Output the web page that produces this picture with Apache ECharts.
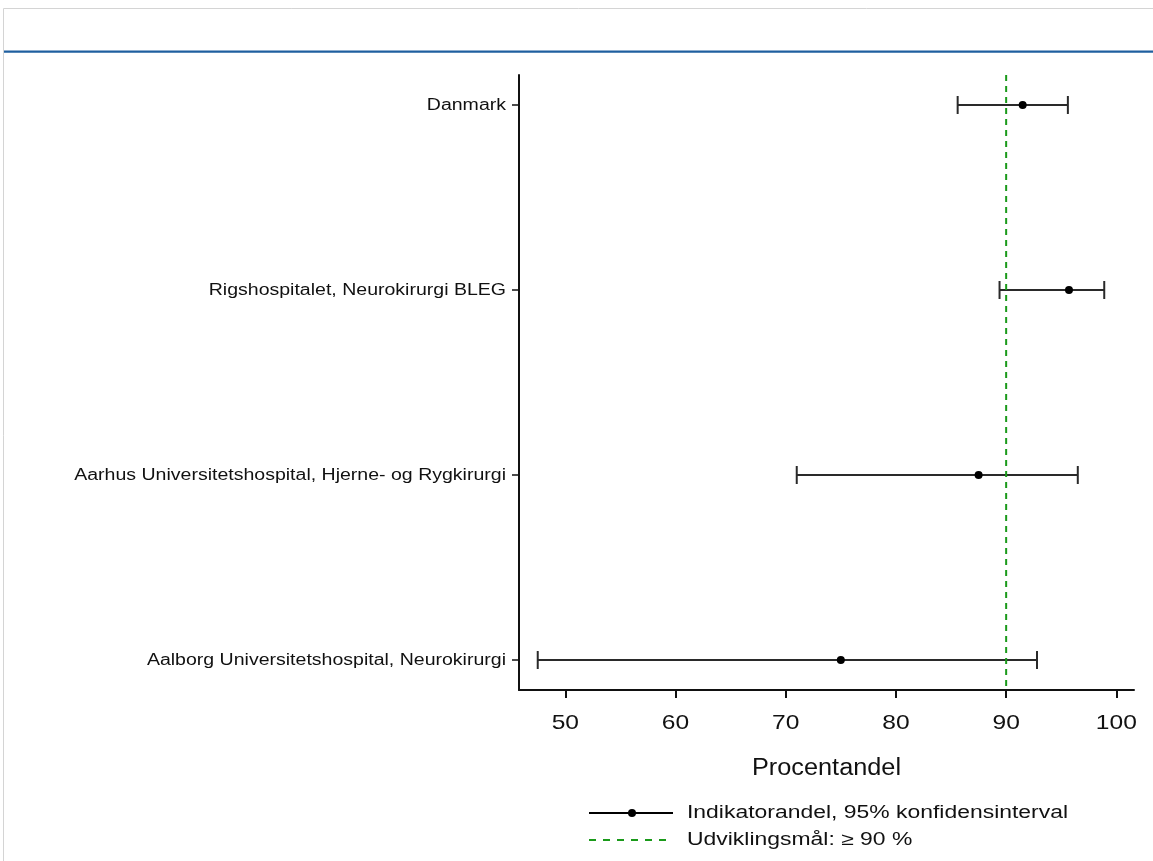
<!DOCTYPE html>
<html>
<head>
<meta charset="utf-8">
<script src="https://cdn.jsdelivr.net/npm/echarts@6/dist/echarts.min.js"></script>
<style>
  html, body { margin: 0; padding: 0; background: #fff; }
  #chart { width: 1153px; height: 861px; }
</style>
</head>
<body>
<div id="chart"></div>
<script>
// Units, top to bottom
const units = [
  'Danmark',
  'Rigshospitalet, Neurokirurgi BLEG',
  'Aarhus Universitetshospital, Hjerne- og Rygkirurgi',
  'Aalborg Universitetshospital, Neurokirurgi'
];
// Indicator share (%) with 95% confidence limits
const estimate = [91.5, 95.7, 87.5, 75.0];
const lower    = [85.6, 89.4, 71.0, 47.5];
const upper    = [95.6, 98.9, 96.5, 92.8];
// Development target
const target = 90;
const xTicks = [50, 60, 70, 80, 90, 100];
const axisTitle = 'Procentandel';
const legendCi = 'Indikatorandel, 95% konfidensinterval';
const legendTarget = 'Udviklingsmål: ≥ 90 %';

const positions = units.map((_, i) => i + 1);
const rows = units.map((_, i) => [positions[i], estimate[i], lower[i], upper[i]]);

const FONT = '"Liberation Sans", Arial, Helvetica, sans-serif';
const INK = '#111';
const GREEN = '#1a9a1a';
const Y_MIN = 0.838, Y_MAX = 4.162;

const chart = echarts.init(document.getElementById('chart'), null, { renderer: 'canvas' });

chart.setOption({
  animation: false,
  backgroundColor: '#ffffff',
  grid: { left: 519, right: 19, top: 75, bottom: 171, containLabel: false },
  xAxis: {
    type: 'value',
    min: 45.8,
    max: 101.6,
    axisLine: { show: true, lineStyle: { color: INK, width: 2 } },
    axisTick: { show: true, length: 8, lineStyle: { color: INK, width: 2 }, customValues: xTicks },
    axisLabel: { show: false },
    splitLine: { show: false }
  },
  yAxis: {
    type: 'value',
    inverse: true,
    min: Y_MIN,
    max: Y_MAX,
    axisLine: { show: true, lineStyle: { color: INK, width: 2 } },
    axisTick: { show: true, length: 7, lineStyle: { color: INK, width: 1.5 }, customValues: positions },
    axisLabel: { show: false },
    splitLine: { show: false }
  },
  series: [
    {
      // target reference line
      type: 'custom',
      data: [[target]],
      encode: { x: 0 },
      z: 3,
      renderItem: (params, api) => {
        const top = api.coord([api.value(0), Y_MIN]);
        const bottom = api.coord([api.value(0), Y_MAX]);
        return {
          type: 'line',
          shape: { x1: top[0], y1: top[1], x2: bottom[0], y2: bottom[1] },
          style: { stroke: GREEN, lineWidth: 2, lineDash: [6, 5] }
        };
      }
    },
    {
      // confidence intervals with point estimates
      type: 'custom',
      data: rows,
      encode: { y: 0, x: [1, 2, 3] },
      z: 2,
      renderItem: (params, api) => {
        const y = api.value(0);
        const pEst = api.coord([api.value(1), y]);
        const pLo = api.coord([api.value(2), y]);
        const pHi = api.coord([api.value(3), y]);
        const cap = 9;
        const stroke = { stroke: '#2a2a2a', lineWidth: 2 };
        return {
          type: 'group',
          children: [
            { type: 'line', shape: { x1: pLo[0], y1: pLo[1], x2: pHi[0], y2: pHi[1] }, style: stroke },
            { type: 'line', shape: { x1: pLo[0], y1: pLo[1] - cap, x2: pLo[0], y2: pLo[1] + cap }, style: stroke },
            { type: 'line', shape: { x1: pHi[0], y1: pHi[1] - cap, x2: pHi[0], y2: pHi[1] + cap }, style: stroke },
            { type: 'circle', shape: { cx: pEst[0], cy: pEst[1], r: 4 }, style: { fill: '#000' } }
          ]
        };
      }
    }
  ]
});

// Text is set in a slightly widened Helvetica-style face
function label(text, x, y, size, stretch, align) {
  return {
    type: 'text', x: x, y: y, scaleX: stretch, z: 10,
    style: { text: text, font: size + 'px ' + FONT, fill: INK, align: align, verticalAlign: 'middle' }
  };
}

const yAxisRef = { yAxisIndex: 0 };
const xAxisRef = { xAxisIndex: 0 };
const axisBottom = chart.convertToPixel(yAxisRef, Y_MAX);
const axisLeft = chart.convertToPixel(xAxisRef, 45.8);
const axisRight = chart.convertToPixel(xAxisRef, 101.6);

const graphics = [
  // outer frame and header rule
  { type: 'rect', shape: { x: 3.5, y: 8.5, width: 1160, height: 870 }, style: { fill: 'none', stroke: '#d4d4d4', lineWidth: 1 } },
  { type: 'rect', shape: { x: 4, y: 50.5, width: 1150, height: 2.2 }, style: { fill: '#1f5f9f' } }
];

// category labels
units.forEach((name, i) => {
  const py = chart.convertToPixel(yAxisRef, positions[i]);
  graphics.push(label(name, axisLeft - 13, py + 1, 16, 1.22, 'right'));
});
// x tick labels
xTicks.forEach(v => {
  const px = chart.convertToPixel(xAxisRef, v);
  graphics.push(label(String(v), px, axisBottom + 33, 21, 1.17, 'center'));
});
// axis title
graphics.push(label(axisTitle, (axisLeft + axisRight) / 2, axisBottom + 79, 23, 1.1, 'center'));

// legend
graphics.push(
  { type: 'line', shape: { x1: 589, y1: 813, x2: 673, y2: 813 }, style: { stroke: '#000', lineWidth: 2 } },
  { type: 'circle', shape: { cx: 632, cy: 813, r: 4 }, style: { fill: '#000' } },
  label(legendCi, 687, 813, 17.5, 1.31, 'left'),
  { type: 'line', shape: { x1: 589, y1: 840, x2: 670, y2: 840 }, style: { stroke: GREEN, lineWidth: 2, lineDash: [7, 7] } },
  label(legendTarget, 687, 840, 17.5, 1.31, 'left')
);

chart.setOption({ graphic: graphics });
</script>
</body>
</html>
